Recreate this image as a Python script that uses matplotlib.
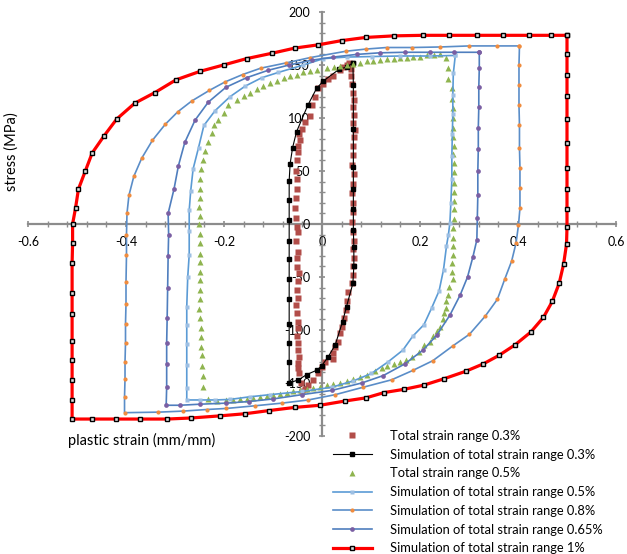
import numpy as np
import matplotlib
matplotlib.use("Agg")
import matplotlib.pyplot as plt
from matplotlib.ticker import MultipleLocator, FuncFormatter

plt.rcParams['font.family'] = ['Lato', 'DejaVu Sans']

# measured loops: (plastic strain, stress MPa)
exp_03 = [
    (0.055, 150), (0.059, 146), (0.060, 140), (0.062, 132), (0.064, 124), (0.066, 117),
    (0.063, 110), (0.065, 103), (0.064, 95), (0.068, 89), (0.066, 82), (0.064, 74),
    (0.063, 65), (0.061, 56), (0.065, 47), (0.063, 38), (0.061, 29), (0.064, 20),
    (0.063, 11), (0.062, 2), (0.064, -8), (0.065, -16), (0.063, -24), (0.065, -32),
    (0.064, -40), (0.063, -48), (0.061, -56), (0.054, -64), (0.052, -73), (0.049, -81),
    (0.045, -89), (0.040, -97), (0.037, -103), (0.033, -111), (0.027, -116), (0.023, -122),
    (0.022, -127), (0.006, -130), (-0.001, -135), (-0.008, -141), (-0.018, -147),
    (-0.028, -152), (-0.035, -156), (-0.041, -158), (-0.043, -150), (-0.046, -141),
    (-0.048, -136), (-0.049, -131), (-0.047, -125), (-0.050, -119), (-0.049, -112),
    (-0.052, -106), (-0.050, -98), (-0.048, -92), (-0.051, -84), (-0.053, -76),
    (-0.049, -70), (-0.052, -62), (-0.050, -54), (-0.047, -46), (-0.051, -41),
    (-0.052, -32), (-0.050, -26), (-0.053, -16), (-0.050, -8), (-0.052, -3),
    (-0.053, 6), (-0.055, 15), (-0.053, 25), (-0.052, 33), (-0.052, 42), (-0.053, 50),
    (-0.052, 60), (-0.048, 68), (-0.050, 74), (-0.045, 79), (-0.046, 85), (-0.041, 90),
    (-0.035, 96), (-0.024, 102), (-0.021, 112), (-0.014, 120), (-0.008, 128),
    (0.003, 132), (0.013, 137), (0.023, 140), (0.037, 145), (0.043, 148), (0.050, 150),
    (0.056, 152),
]

sim_03 = [
    (0.063, 152), (0.064, 131), (0.064, 90), (0.064, 54), (0.064, 33), (0.064, 14),
    (0.064, -6), (0.065, -22), (0.065, -40), (0.063, -56), (0.050, -78), (0.042, -92),
    (0.027, -114), (0.013, -125), (-0.001, -134), (-0.011, -138), (-0.031, -142),
    (-0.048, -147), (-0.067, -150), (-0.067, -130), (-0.067, -112), (-0.067, -94),
    (-0.067, -71), (-0.067, -52), (-0.067, -33), (-0.067, -16), (-0.067, 4),
    (-0.067, 23), (-0.067, 41), (-0.065, 57), (-0.060, 72), (-0.052, 87),
    (-0.029, 112), (-0.011, 128), (0.003, 135), (0.035, 146), (0.050, 148), (0.063, 152),
]

exp_05 = [
    (-0.242, -154), (-0.242, -143), (-0.244, -134), (-0.244, -124), (-0.246, -116),
    (-0.246, -107), (-0.247, -98), (-0.248, -89), (-0.252, -80), (-0.250, -71),
    (-0.249, -62), (-0.250, -53), (-0.248, -45), (-0.249, -36), (-0.248, -28),
    (-0.250, -18), (-0.249, -9), (-0.252, 0), (-0.248, 8), (-0.252, 16), (-0.249, 25),
    (-0.249, 33), (-0.248, 42), (-0.246, 52), (-0.242, 60), (-0.238, 69), (-0.232, 77),
    (-0.225, 86), (-0.220, 93), (-0.212, 98), (-0.201, 105), (-0.191, 112),
    (-0.174, 117), (-0.160, 121), (-0.147, 124), (-0.133, 127), (-0.120, 130),
    (-0.106, 133), (-0.092, 135), (-0.078, 138), (-0.065, 140), (-0.051, 141),
    (-0.038, 143), (-0.024, 144), (-0.011, 145), (0.010, 147), (0.024, 148),
    (0.037, 149), (0.051, 150), (0.064, 151), (0.078, 152), (0.091, 154), (0.104, 154),
    (0.118, 155), (0.132, 156), (0.146, 156), (0.159, 157), (0.173, 157), (0.186, 158),
    (0.200, 158), (0.214, 159), (0.228, 159), (0.241, 160), (0.254, 157),
    (0.258, 147), (0.258, 137), (0.265, 128), (0.265, 118), (0.268, 109), (0.267, 100),
    (0.268, 91), (0.268, 82), (0.269, 74), (0.267, 66), (0.269, 58), (0.269, 49),
    (0.269, 39), (0.269, 30), (0.270, 22), (0.269, 14), (0.270, 5), (0.268, -4),
    (0.268, -13), (0.268, -21), (0.267, -29), (0.265, -37), (0.265, -45), (0.267, -52),
    (0.260, -59), (0.258, -67), (0.254, -73), (0.253, -79), (0.249, -84), (0.246, -90),
    (0.241, -97), (0.234, -101), (0.227, -106), (0.220, -111), (0.208, -114),
    (0.197, -121), (0.183, -125), (0.171, -128), (0.159, -130), (0.146, -132),
    (0.132, -134), (0.122, -136), (0.108, -139), (0.091, -142), (0.078, -144),
    (0.064, -146), (0.050, -148), (0.037, -150), (0.023, -151), (0.010, -152),
    (-0.004, -154), (-0.018, -155), (-0.031, -156), (-0.045, -157), (-0.059, -158),
    (-0.072, -159), (-0.086, -160), (-0.099, -161), (-0.113, -162), (-0.127, -163),
    (-0.140, -164), (-0.154, -165), (-0.167, -165), (-0.181, -166), (-0.195, -166),
    (-0.215, -167), (-0.232, -165),
]

sim_05 = [
    (0.272, 159), (0.268, 142), (0.267, 122), (0.267, 104), (0.266, 85), (0.265, 64),
    (0.265, 42), (0.263, 20), (0.261, 1), (0.258, -10), (0.254, -21), (0.248, -43),
    (0.239, -63), (0.224, -79), (0.208, -95), (0.185, -106), (0.165, -119),
    (0.135, -130), (0.101, -141), (0.064, -148), (0.020, -154), (-0.041, -158),
    (-0.106, -161), (-0.147, -163), (-0.188, -165.5), (-0.218, -166), (-0.249, -166),
    (-0.276, -166), (-0.276, -155), (-0.276, -133), (-0.276, -113), (-0.276, -95),
    (-0.276, -78), (-0.274, -50), (-0.271, -29), (-0.271, -7), (-0.271, 13),
    (-0.268, 31), (-0.263, 52), (-0.252, 72), (-0.241, 93), (-0.218, 107),
    (-0.188, 120), (-0.157, 130), (-0.123, 138), (-0.089, 143), (-0.038, 150),
    (0.003, 156), (0.050, 157.5), (0.103, 158), (0.160, 158.5), (0.220, 158.5),
    (0.272, 159),
]

sim_08 = [
    (0.403, 168), (0.402, 150), (0.402, 131), (0.402, 112), (0.403, 93), (0.403, 72),
    (0.404, 53), (0.404, 34), (0.404, 15), (0.401, -1), (0.396, -18), (0.387, -35),
    (0.373, -52), (0.358, -71), (0.333, -87), (0.301, -104), (0.267, -115),
    (0.226, -129), (0.186, -138), (0.142, -147), (0.084, -154), (0.027, -161),
    (-0.028, -166), (-0.082, -169), (-0.137, -171.5), (-0.195, -174), (-0.235, -175),
    (-0.283, -176.5), (-0.334, -177.5), (-0.403, -178), (-0.403, -163), (-0.402, -146),
    (-0.402, -130), (-0.401, -112), (-0.401, -94), (-0.400, -75), (-0.400, -55),
    (-0.399, -29), (-0.399, -10), (-0.398, 10), (-0.394, 27), (-0.384, 45),
    (-0.368, 62), (-0.346, 79), (-0.320, 94), (-0.294, 106), (-0.266, 116),
    (-0.230, 126), (-0.198, 134), (-0.162, 141), (-0.125, 147), (-0.073, 152),
    (-0.024, 157), (0.049, 163), (0.089, 165), (0.132, 166.5), (0.183, 166.5),
    (0.241, 167), (0.301, 168), (0.357, 168), (0.403, 168),
]

sim_065 = [
    (0.321, 162), (0.321, 147), (0.320, 129), (0.320, 110), (0.319, 91), (0.319, 71),
    (0.318, 50), (0.318, 27), (0.317, 6), (0.316, -15), (0.308, -31), (0.297, -50),
    (0.282, -67), (0.261, -86), (0.234, -105), (0.206, -119), (0.169, -132),
    (0.125, -143), (0.081, -150), (0.020, -157), (-0.041, -161), (-0.099, -165),
    (-0.150, -167.5), (-0.195, -169), (-0.249, -170), (-0.290, -171), (-0.318, -171),
    (-0.317, -154), (-0.317, -132), (-0.317, -112), (-0.316, -89), (-0.315, -60),
    (-0.314, -30), (-0.313, -10), (-0.314, 10), (-0.302, 33), (-0.293, 55),
    (-0.280, 77), (-0.259, 98), (-0.232, 115), (-0.196, 129), (-0.154, 138),
    (-0.110, 145), (-0.067, 150), (-0.021, 154.5), (0.023, 157.5), (0.071, 160),
    (0.118, 161.5), (0.169, 162), (0.220, 162), (0.269, 162), (0.321, 162),
]

sim_10 = [
    (0.500, 178), (0.500, 160), (0.500, 141), (0.500, 121), (0.500, 99), (0.500, 76),
    (0.500, 53), (0.500, 33), (0.500, 14), (0.500, -3), (0.499, -19), (0.493, -38),
    (0.484, -56), (0.470, -73), (0.452, -88), (0.426, -102), (0.394, -114),
    (0.361, -124), (0.329, -132), (0.293, -139), (0.249, -146), (0.208, -152),
    (0.167, -156), (0.127, -159), (0.090, -164), (0.047, -167), (-0.004, -171),
    (-0.055, -173), (-0.108, -176), (-0.157, -179), (-0.208, -181), (-0.267, -183),
    (-0.316, -184), (-0.371, -184), (-0.420, -184), (-0.469, -184), (-0.510, -184),
    (-0.510, -166), (-0.510, -147), (-0.510, -128), (-0.510, -110), (-0.510, -85),
    (-0.510, -65), (-0.510, -37), (-0.509, -18), (-0.509, 0), (-0.503, 15),
    (-0.497, 33), (-0.483, 50), (-0.469, 67), (-0.445, 83), (-0.419, 99),
    (-0.382, 114), (-0.341, 124), (-0.298, 136), (-0.249, 144), (-0.201, 150),
    (-0.154, 156), (-0.103, 161), (-0.055, 166), (-0.008, 169), (0.040, 173),
    (0.089, 176), (0.147, 177.5), (0.206, 178), (0.260, 178), (0.316, 178),
    (0.370, 178), (0.423, 178), (0.467, 178), (0.500, 178),
]

labels = [
    'Total strain range 0.3%',
    'Simulation of total strain range 0.3%',
    'Total strain range 0.5%',
    'Simulation of total strain range 0.5%',
    'Simulation of total strain range 0.8%',
    'Simulation of total strain range 0.65%',
    'Simulation of total strain range 1%',
]

fig = plt.figure(figsize=(6.27, 5.54), dpi=100)
ax = fig.add_axes([28 / 627, 1 - 436 / 554, 588 / 627, 424 / 554])

def xy(pts):
    a = np.array(pts, dtype=float)
    return a[:, 0], a[:, 1]

x, y = xy(exp_03)
ax.plot(x, y, ls='none', marker='s', ms=3.8, color='#B24D49', mec='none', label=labels[0])
x, y = xy(sim_03)
ax.plot(x, y, color='black', lw=0.8, marker='s', ms=3.2, mfc='black', mec='black', label=labels[1])
x, y = xy(exp_05)
ax.plot(x, y, ls='none', marker='^', ms=3.8, color='#8FB44F', mec='none', label=labels[2])
x, y = xy(sim_05)
ax.plot(x, y, color='#5B9BD5', lw=1.2, marker='s', ms=3.4, mfc='#9DBFE3', mec='none', label=labels[3])
x, y = xy(sim_08)
ax.plot(x, y, color='#5A8DC8', lw=1.2, marker='o', ms=3.0, mfc='#F08C3E', mec='none', label=labels[4])
x, y = xy(sim_065)
ax.plot(x, y, color='#4F7EBE', lw=1.2, marker='o', ms=3.4, mfc='#7A5FA3', mec='none', label=labels[5])
x, y = xy(sim_10)
ax.plot(x, y, color='#FF0000', lw=2.3, marker='s', ms=3.0, mfc='#DDDDDD', mec='black', mew=1.0,
        label=labels[6])

ax.set_xlim(-0.6, 0.6)
ax.set_ylim(-200, 200)

# axes cross at the origin
for side in ['top', 'right']:
    ax.spines[side].set_visible(False)
ax.spines['left'].set_position(('data', 0))
ax.spines['bottom'].set_position(('data', 0))
for side in ['left', 'bottom']:
    ax.spines[side].set_color('#8C8C8C')
    ax.spines[side].set_linewidth(1.6)
    ax.spines[side].set_zorder(1)

ax.xaxis.set_major_locator(MultipleLocator(0.2))
ax.xaxis.set_minor_locator(MultipleLocator(0.04))
ax.yaxis.set_major_locator(MultipleLocator(50))
ax.yaxis.set_minor_locator(MultipleLocator(10))

def fmt(v, pos):
    s = f'{round(v, 2):g}'
    return '0' if s == '-0' else s

ax.xaxis.set_major_formatter(FuncFormatter(fmt))
ax.yaxis.set_major_formatter(FuncFormatter(fmt))
ax.tick_params(which='major', direction='inout', length=5, width=1.2, color='#8C8C8C',
               labelsize=9, pad=6)
ax.tick_params(which='minor', direction='inout', length=4, width=1.0, color='#8C8C8C')

fig.text(12 / 627, 1 - 152 / 554, 'stress (MPa)', rotation=90, ha='center', va='center', fontsize=10.5)
fig.text(142 / 627, 1 - 440 / 554, 'plastic strain (mm/mm)', ha='center', va='center', fontsize=10.5)

fig.legend(loc='upper left', bbox_to_anchor=(333 / 627, 1 - 430 / 554), frameon=False,
           fontsize=9.3, numpoints=1, handlelength=3.0, handletextpad=1.4,
           labelspacing=0.52, borderpad=0, borderaxespad=0)

fig.savefig('out.png', dpi=100)
